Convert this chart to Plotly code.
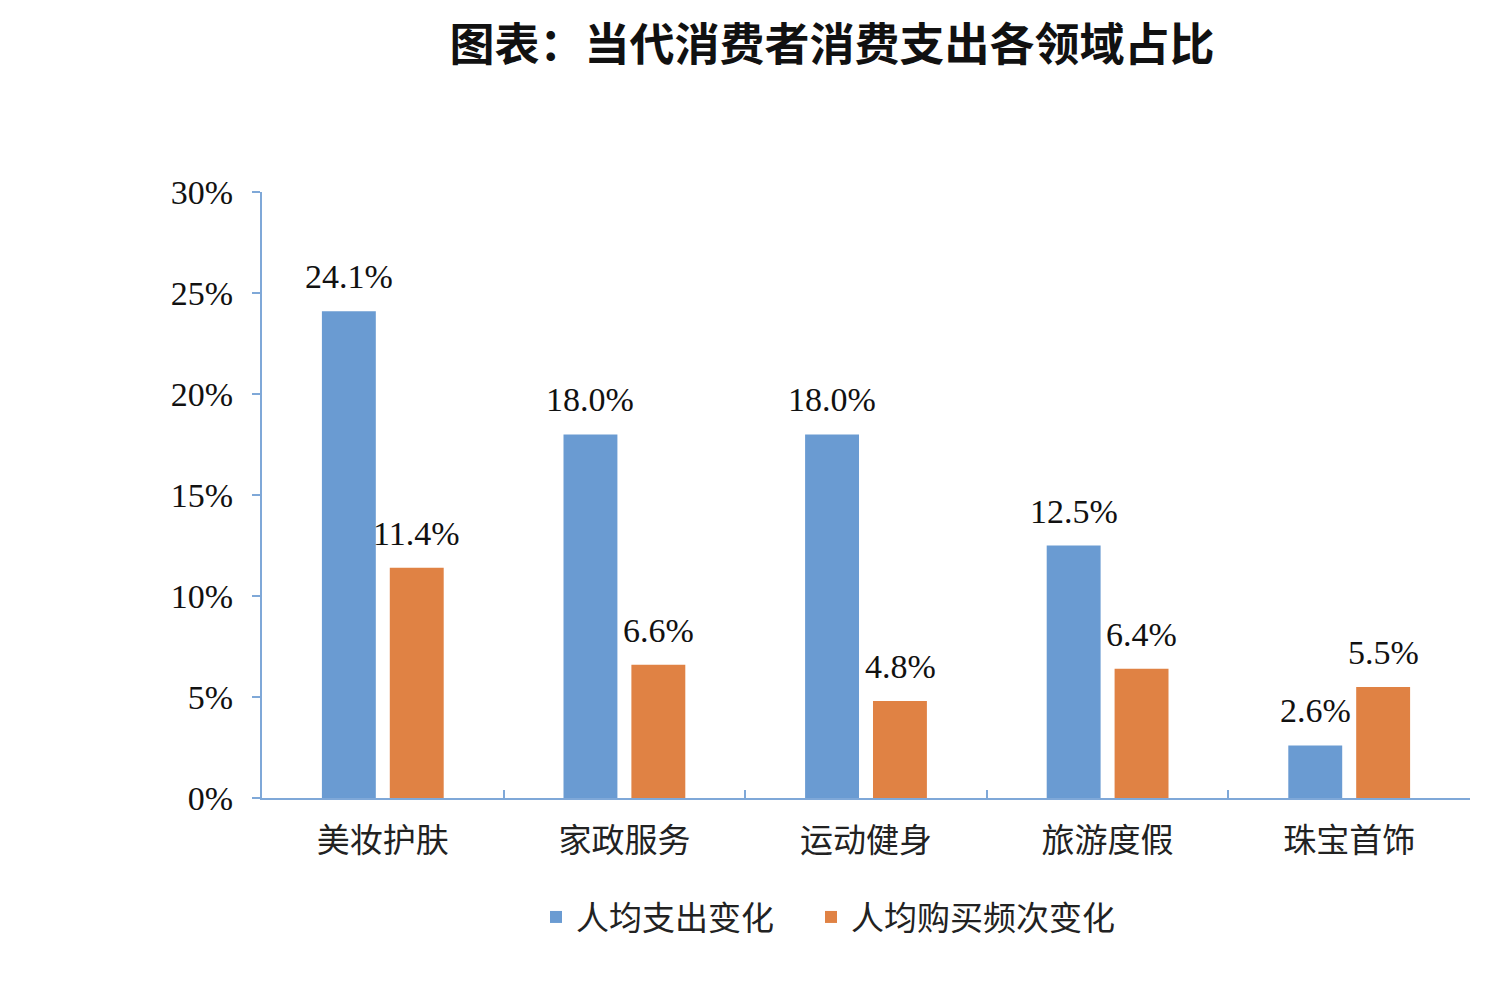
import plotly.graph_objects as go

categories = ["美妆护肤", "家政服务", "运动健身", "旅游度假", "珠宝首饰"]
spend_change = [24.1, 18.0, 18.0, 12.5, 2.6]
freq_change = [11.4, 6.6, 4.8, 6.4, 5.5]
series_names = ["人均支出变化", "人均购买频次变化"]
y_ticks = [0, 5, 10, 15, 20, 25, 30]
y_tick_labels = ["0%", "5%", "10%", "15%", "20%", "25%", "30%"]

BLUE = "#6A9BD2"
ORANGE = "#E08244"
AXIS = "#7FA8D8"
SERIF = "Liberation Serif, Times New Roman, Noto Serif CJK SC, Noto Sans CJK SC, serif"
W, H = 1499, 1000

fig = go.Figure()
fig.add_trace(go.Bar(x=categories, y=spend_change, name=series_names[0], legend="legend",
                     marker=dict(color=BLUE, line=dict(width=0))))
fig.add_trace(go.Bar(x=categories, y=freq_change, name=series_names[1], legend="legend2",
                     marker=dict(color=ORANGE, line=dict(width=0))))

annotations = []
for vals, shift in ((spend_change, -34), (freq_change, 34)):
    for c, v in zip(categories, vals):
        annotations.append(dict(x=c, y=v, xref="x", yref="y", text=f"{v:.1f}%",
                                showarrow=False, xshift=shift, yshift=14,
                                yanchor="bottom", xanchor="center",
                                font=dict(family=SERIF, size=34, color="#111111")))

legend_font = dict(family="Noto Sans CJK SC", size=33, color="#222222")
fig.update_layout(
    width=W, height=H,
    paper_bgcolor="white", plot_bgcolor="white",
    margin=dict(l=262, r=29, t=192, b=202),
    barmode="group", bargap=0.438, bargroupgap=0.206,
    title=dict(text="<b>图表：当代消费者消费支出各领域占比</b>",
               x=0.555, xref="container", xanchor="center",
               y=0.955, yref="container", yanchor="middle",
               font=dict(family="Noto Sans CJK SC", size=45, color="#111111")),
    annotations=annotations,
    showlegend=True,
    legend=dict(orientation="h", x=536 / W, xref="container", xanchor="left",
                y=0.083, yref="container", yanchor="middle",
                font=legend_font, itemclick=False),
    legend2=dict(orientation="h", x=811 / W, xref="container", xanchor="left",
                 y=0.083, yref="container", yanchor="middle",
                 font=legend_font, itemclick=False),
    font=dict(family=SERIF),
)
fig.update_xaxes(showline=True, linecolor=AXIS, linewidth=2,
                 ticks="inside", tickson="boundaries", ticklen=8, tickcolor=AXIS, tickwidth=2,
                 tickfont=dict(family="Noto Sans CJK SC", size=33, color="#222222"),
                 ticklabelstandoff=12, showgrid=False, zeroline=False)
fig.update_yaxes(range=[0, 30], tickvals=y_ticks, ticktext=y_tick_labels,
                 showline=True, linecolor=AXIS, linewidth=2,
                 ticks="outside", ticklen=8, tickcolor=AXIS, tickwidth=2,
                 tickfont=dict(family=SERIF, size=34, color="#111111"),
                 ticklabelstandoff=12, showgrid=False, zeroline=False)

fig.write_html("out.html")
